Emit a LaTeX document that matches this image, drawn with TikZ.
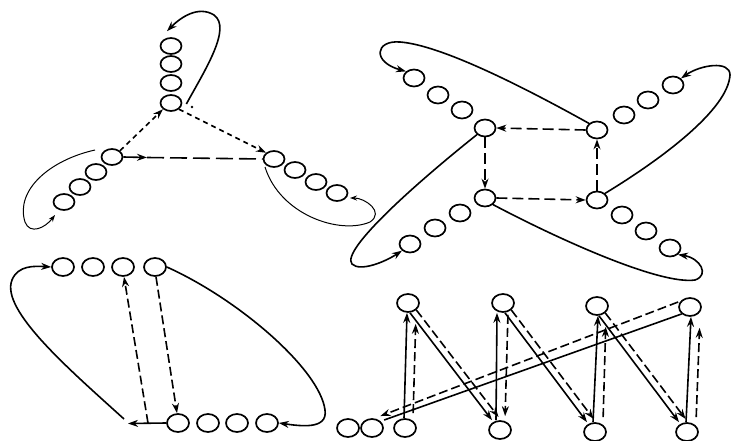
\documentclass[tikz,border=0pt]{standalone}
\usetikzlibrary{shapes.geometric,arrows.meta}
\begin{document}
\begin{tikzpicture}[x=1pt,y=-1pt,
  bead/.style={draw, ellipse, minimum width=21pt, minimum height=16pt, inner sep=0pt, line width=1.7pt},
  bigbead/.style={bead, minimum width=22pt, minimum height=18pt},
  lnk/.style={line width=1.6pt},
  fine/.style={line width=1.0pt},
  arr/.style={-{Stealth[length=10pt,width=7pt]}},
  sarr/.style={-{Stealth[length=7pt,width=5pt]}},
  dshort/.style={dash pattern=on 5pt off 4pt},
  dlong/.style={dash pattern=on 17pt off 6pt},
  dmid/.style={dash pattern=on 11pt off 5pt},
  dbot/.style={dash pattern=on 9pt off 4pt},
]
\useasboundingbox (0,0) rectangle (733,441);

% ---------------- top-left: three arms ----------------
\node[bead] (a1) at (171,46) {};
\node[bead] (a2) at (171,64) {};
\node[bead] (a3) at (171,83) {};
\node[bead] (a4) at (171,103) {};
\node[bead] (b1) at (112,157) {};
\node[bead] (b2) at (96,172) {};
\node[bead] (b3) at (80,187) {};
\node[bead] (b4) at (64,202) {};
\node[bead] (c1) at (274,159) {};
\node[bead] (c2) at (295,170) {};
\node[bead] (c3) at (316,182) {};
\node[bead] (c4) at (337,193) {};

\draw[lnk,arr] ([xshift=4pt,yshift=-1pt]a4.east) .. controls (205,70) and (232,28) .. (214,15)
   .. controls (198,5) and (180,18) .. ([xshift=-4pt,yshift=6pt]a1.north);
\fill (192,107) circle (1.4pt);
\draw[lnk,dshort,arr] (b1.north east) -- (a4.south west);
\draw[lnk,dshort,arr] (a4.south east) -- (c1.north west);
\coordinate (bm) at (147,157.5);
\draw[lnk,arr] (b1.east) -- (bm);
\draw[lnk,dlong] (bm) -- (c1.west);
\coordinate (bs) at (95,150);
\coordinate (bt) at (55,215);
\draw[fine,sarr] (bs) .. controls (50,160) and (15,190) .. (25,222) .. controls (30,235) and (45,228) .. (bt);
\coordinate (cs) at (265,167);
\coordinate (ct) at (350,198);
\draw[fine,sarr] (cs) .. controls (280,215) and (340,235) .. (370,222) .. controls (385,212) and (365,198) .. (ct);

% ---------------- top-right: four arms ----------------
\node[bead, minimum height=17pt] (p) at (485,128) {};
\node[bead, minimum height=17pt] (q) at (597,130) {};
\node[bead, minimum height=17pt] (r) at (485,198) {};
\node[bead, minimum height=17pt] (s) at (597,200) {};
\node[bead, minimum height=17pt] (u1) at (462,110) {};
\node[bead, minimum height=17pt] (u2) at (438,95) {};
\node[bead, minimum height=17pt] (u3) at (414,78) {};
\node[bead, minimum height=17pt] (v1) at (624,115) {};
\node[bead, minimum height=17pt] (v2) at (648,100) {};
\node[bead, minimum height=17pt] (v3) at (673,85) {};
\node[bead, minimum height=17pt] (w1) at (460,213) {};
\node[bead, minimum height=17pt] (w2) at (435,228) {};
\node[bead, minimum height=17pt] (w3) at (410,244) {};
\node[bead, minimum height=17pt] (z1) at (622,215) {};
\node[bead, minimum height=17pt] (z2) at (646,231) {};
\node[bead, minimum height=17pt] (z3) at (670,248) {};

\draw[lnk,dmid,arr] (q.west) -- (p.east);
\draw[lnk,dmid,arr] (p.south) -- (r.north);
\draw[lnk,dmid,arr] (r.east) -- (s.west);
\draw[lnk,dmid,arr] (s.north) -- (q.south);

\draw[lnk,arr] (q.north west) .. controls (520,85) and (440,45) .. (400,42)
   .. controls (375,40) and (372,62) .. (u3.north west);
\draw[lnk,arr] (s.north east) .. controls (660,160) and (728,110) .. (730,75)
   .. controls (730,60) and (700,65) .. (v3.north east);
\draw[lnk,arr] (p.south west) .. controls (420,180) and (340,250) .. (352,264)
   .. controls (360,272) and (385,262) .. (w3.south west);
\draw[lnk,arr] (r.south east) .. controls (560,240) and (660,285) .. (695,280)
   .. controls (710,275) and (700,258) .. (z3.south east);

% ---------------- bottom-left ----------------
\node[bigbead] (t1) at (63,267) {};
\node[bigbead] (t2) at (93,267) {};
\node[bigbead] (t3) at (123,267) {};
\node[bigbead] (t4) at (155,267) {};
\node[bigbead] (m1) at (178,423) {};
\node[bigbead] (m2) at (208,423) {};
\node[bigbead] (m3) at (237,423) {};
\node[bigbead] (m4) at (267,423) {};

\draw[lnk,arr] (t4.east) .. controls (240,300) and (320,370) .. (325,410)
   .. controls (328,430) and (300,426) .. (m4.east);
\coordinate (ls) at (124,419);
\draw[lnk,arr] (ls) .. controls (70,370) and (0,310) .. (12,280)
   .. controls (18,265) and (35,266) .. (t1.west);
\coordinate (lt) at (128,423.5);
\draw[lnk,arr] (m1.west) -- (lt);
\coordinate (ld) at (148,423);
\draw[lnk,dbot,arr] (ld) -- ([xshift=1pt]t3.south);
\draw[lnk,dbot,arr] ([xshift=1pt]t4.south) -- ([xshift=-1pt]m1.north);

% ---------------- bottom-right zigzag ----------------
\node[bigbead] (T1) at (408,303) {};
\node[bigbead] (T2) at (503,303) {};
\node[bigbead] (T3) at (597,306) {};
\node[bigbead] (T4) at (690,307) {};
\node[bigbead] (B0a) at (348,428) {};
\node[bigbead] (B0b) at (372,428) {};
\node[bigbead] (B1) at (405,428) {};
\node[bigbead] (B2) at (500,430) {};
\node[bigbead] (B3) at (595,432) {};
\node[bigbead] (B4) at (687,432) {};

% verticals
\draw[lnk,arr] ([xshift=-1pt]B1.north) -- ([xshift=-1pt]T1.south);
\draw[lnk,dbot,arr,shorten <=5pt,shorten >=11pt] ([xshift=8pt]B1.north) -- ([xshift=8pt]T1.south);
\draw[lnk,arr] ([xshift=-4pt]B2.north) -- ([xshift=-6pt]T2.south);
\draw[lnk,dbot,arr,shorten <=2pt,shorten >=4pt] ([xshift=5pt]T2.south) -- ([xshift=5pt]B2.north);
\draw[lnk,arr] ([xshift=-2pt]B3.north) -- ([xshift=1pt]T3.south);
\draw[lnk,dbot,arr,shorten <=5pt,shorten >=11pt] ([xshift=8pt]B3.north) -- ([xshift=9pt]T3.south);
\draw[lnk,arr] ([xshift=-1pt]B4.north) -- ([xshift=1pt]T4.south);
\draw[lnk,dbot,arr,shorten <=5pt,shorten >=11pt] ([xshift=9pt]B4.north) -- ([xshift=10pt]T4.south);
% diagonals
\draw[lnk,arr] ([xshift=2pt]T1.south) -- ([xshift=-8pt]B2.north);
\draw[lnk,dbot,arr,shorten >=4pt] (T1.-40) -- ([xshift=1pt]B2.north);
\draw[lnk,arr] ([xshift=2pt]T2.south) -- ([xshift=-8pt]B3.north);
\draw[lnk,dbot,arr,shorten >=4pt] (T2.-40) -- ([xshift=1pt]B3.north);
\draw[lnk,arr] ([xshift=2pt]T3.south) -- ([xshift=-8pt]B4.north);
\draw[lnk,dbot,arr,shorten >=4pt] (T3.-40) -- ([xshift=1pt]B4.north);
% long return
\draw[lnk,dbot,arr] ([yshift=5pt]T4.west) -- ([yshift=5pt]B0b.north east);
\draw[lnk] (T4.south west) -- ([xshift=-9pt,yshift=8pt]B1.west);
\end{tikzpicture}
\end{document}
